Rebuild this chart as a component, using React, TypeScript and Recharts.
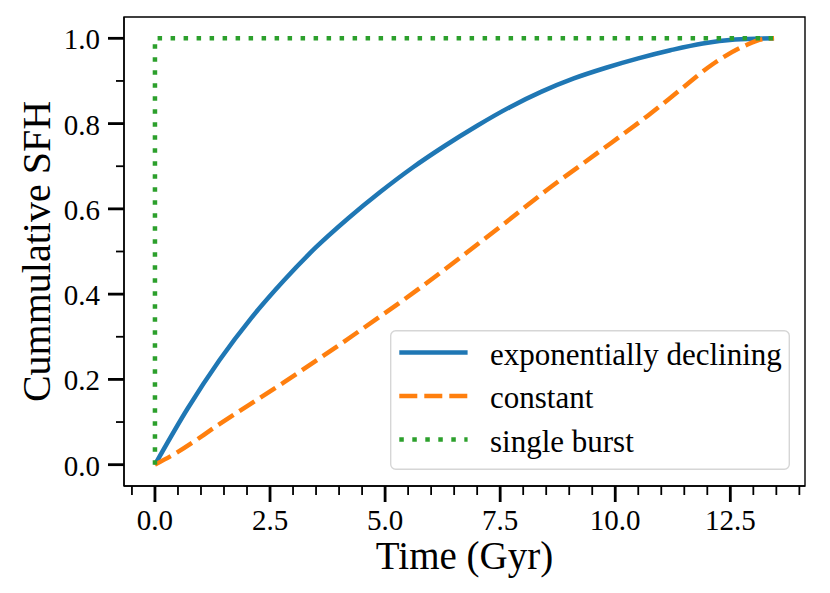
import React from "react";
import { LineChart, Line, XAxis, YAxis, Legend, ReferenceArea } from "recharts";

// cumulative star formation history
const expTime = [0, 0.7, 1.4, 2.1, 2.8, 3.5, 4.2, 4.9, 5.6, 6.3, 7.0, 7.7, 8.4, 9.1, 9.8, 10.5, 11.2, 11.9, 12.6, 13.45];
const expCum = [0, 0.13, 0.245, 0.345, 0.432, 0.51, 0.578, 0.64, 0.697, 0.748, 0.795, 0.838, 0.875, 0.906, 0.931, 0.953, 0.972, 0.988, 0.997, 1.0];

const constTime = [0, 0.5, 1.4, 2.8, 4.3, 5.7, 6.6, 7.5, 8.5, 9.6, 10.7, 11.4, 12.1, 12.8, 13.2, 13.45];
const constCum = [0, 0.03, 0.095, 0.193, 0.303, 0.41, 0.483, 0.558, 0.643, 0.73, 0.818, 0.878, 0.938, 0.982, 0.998, 1.0];

const burstTime = [0, 0, 13.45];
const burstCum = [0, 1, 1];

const xMajor = [0, 2.5, 5, 7.5, 10, 12.5];
const xMinor = [-0.5, 0, 0.5, 1, 1.5, 2, 2.5, 3, 3.5, 4, 4.5, 5, 5.5, 6, 6.5, 7, 7.5, 8, 8.5, 9, 9.5, 10, 10.5, 11, 11.5, 12, 12.5, 13, 13.5, 14];
const yMajor = [0, 0.2, 0.4, 0.6, 0.8, 1.0];
const yMinor = [0, 0.1, 0.2, 0.3, 0.4, 0.5, 0.6, 0.7, 0.8, 0.9, 1.0];

const toRows = (t: number[], v: number[]) => t.map((x, i) => ({ t: x, v: v[i] }));

const series = [
  { name: "exponentially declining", data: toRows(expTime, expCum), color: "#1f77b4", dash: undefined as string | undefined, type: "monotone" as const },
  { name: "constant", data: toRows(constTime, constCum), color: "#ff7f0e", dash: "18 7", type: "monotone" as const },
  { name: "single burst", data: toRows(burstTime, burstCum), color: "#2ca02c", dash: "4.5 8.5", type: "linear" as const },
];

const FONT = '"Liberation Serif", "Times New Roman", serif';
const xDomain = [-0.6725, 14.1225];
const yDomain = [-0.05, 1.05];

const isIn = (list: number[], v: number) => list.some((m) => Math.abs(m - v) < 1e-6);

function XTick(props: any) {
  const { x, y, payload } = props;
  const major = isIn(xMajor, payload.value);
  return (
    <g>
      <line x1={x} x2={x} y1={y} y2={y + (major ? 16 : 9)} stroke="#000" strokeWidth={major ? 2.8 : 1.8} />
      {major && (
        <text x={x} y={y + 44} textAnchor="middle" fontFamily={FONT} fontSize={29} fill="#000">
          {payload.value.toFixed(1)}
        </text>
      )}
    </g>
  );
}

function YTick(props: any) {
  const { x, y, payload } = props;
  const major = isIn(yMajor, payload.value);
  return (
    <g>
      <line x1={x - (major ? 16 : 8)} x2={x} y1={y} y2={y} stroke="#000" strokeWidth={major ? 2.8 : 1.8} />
      {major && (
        <text x={x - 24} y={y + 11} textAnchor="end" fontFamily={FONT} fontSize={29} fill="#000">
          {payload.value.toFixed(1)}
        </text>
      )}
    </g>
  );
}

function XLabel(props: any) {
  const { viewBox } = props;
  return (
    <text x={viewBox.x + viewBox.width / 2} y={viewBox.y + 83} textAnchor="middle" fontFamily={FONT} fontSize={39} fill="#000">
      Time (Gyr)
    </text>
  );
}

function YLabel(props: any) {
  const { viewBox } = props;
  const cy = viewBox.y + viewBox.height / 2;
  return (
    <text x={50} y={cy} transform={`rotate(-90 50 ${cy})`} textAnchor="middle" fontFamily={FONT} fontSize={40} fill="#000">
      Cummulative SFH
    </text>
  );
}

function LegendBox() {
  return (
    <svg width={400} height={140} style={{ display: "block" }}>
      <rect x={0.7} y={0.7} width={398.6} height={138.6} rx={5} fill="#fff" fillOpacity={0.8} stroke="#d6d6d6" strokeWidth={1.4} />
      {series.map((s, i) => {
        const cy = 22.6 + i * 43.4;
        return (
          <g key={s.name}>
            <line x1={9.3} x2={77.6} y1={cy} y2={cy} stroke={s.color} strokeWidth={4.5} strokeDasharray={s.dash} />
            <text x={100} y={cy + 12.4} fontFamily={FONT} fontSize={31} fill="#000">
              {s.name}
            </text>
          </g>
        );
      })}
    </svg>
  );
}

export default function App() {
  return (
    <div style={{ position: "absolute", left: 0, top: 0, width: 830, height: 593, background: "#fff" }}>
      <LineChart width={830} height={593} margin={{ top: 17, right: 25, bottom: 0, left: 0 }}>
        <XAxis
          dataKey="t"
          type="number"
          domain={xDomain}
          ticks={xMinor}
          interval={0}
          allowDataOverflow
          height={107}
          tickSize={0}
          tickMargin={0}
          tickLine={false}
          tick={<XTick />}
          axisLine={{ stroke: "#000", strokeWidth: 1.4 }}
          label={<XLabel />}
        />
        <YAxis
          type="number"
          domain={yDomain}
          ticks={yMinor}
          interval={0}
          allowDataOverflow
          width={124}
          tickSize={0}
          tickMargin={0}
          tickLine={false}
          tick={<YTick />}
          axisLine={{ stroke: "#000", strokeWidth: 1.4 }}
          label={<YLabel />}
        />
        <ReferenceArea
          x1={xDomain[0]}
          x2={xDomain[1]}
          y1={yDomain[0]}
          y2={yDomain[1]}
          ifOverflow="visible"
          fill="none"
          fillOpacity={0}
          stroke="#000"
          strokeWidth={1.4}
        />
        {series.map((s) => (
          <Line
            key={s.name}
            data={s.data}
            dataKey="v"
            name={s.name}
            type={s.type}
            stroke={s.color}
            strokeWidth={4.5}
            strokeDasharray={s.dash}
            dot={false}
            activeDot={false}
            isAnimationActive={false}
          />
        ))}
        <Legend
          layout="vertical"
          align="center"
          verticalAlign="middle"
          content={() => <LegendBox />}
          wrapperStyle={{ position: "absolute", left: 390, top: 330, width: 400, height: 140 }}
        />
      </LineChart>
    </div>
  );
}
